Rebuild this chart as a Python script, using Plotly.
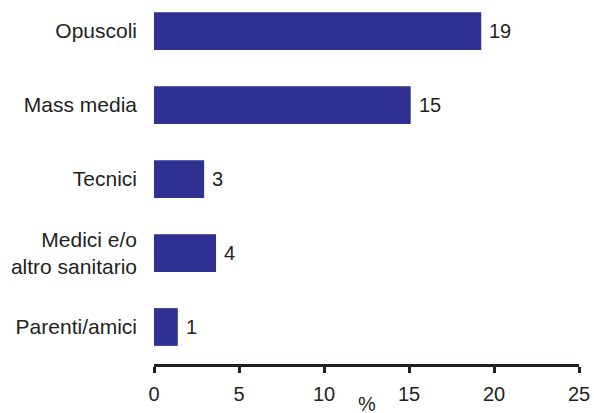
import plotly.graph_objects as go

categories = ["Opuscoli", "Mass media", "Tecnici", "Medici e/o<br>altro sanitario", "Parenti/amici"]
values = [19.25, 15.1, 2.95, 3.65, 1.4]
labels = ["19", "15", "3", "4", "1"]
tick_vals = [0, 5, 10, 15, 20, 25]

TXT = "#231f20"
BAR = "#2e3192"
FONT = "Liberation Sans, Arial, sans-serif"

fig = go.Figure()
fig.add_trace(go.Bar(
    x=values, y=categories, orientation="h",
    marker=dict(color=BAR, line=dict(width=0)),
    width=0.51, hoverinfo="skip",
))

for v, c, t in zip(values, categories, labels):
    fig.add_annotation(x=v, y=c, text=t, xanchor="left", yanchor="middle",
                       showarrow=False, xshift=6,
                       font=dict(family=FONT, size=20, color=TXT))

fig.add_annotation(x=0.5, y=0, xref="paper", yref="paper", text="%",
                   xanchor="center", yanchor="top", yshift=-27, showarrow=False,
                   font=dict(family=FONT, size=20, color=TXT))

fig.update_layout(
    width=594, height=413,
    margin=dict(l=154, r=15, t=0, b=49),
    paper_bgcolor="white", plot_bgcolor="white",
    showlegend=False,
    font=dict(family=FONT, size=20, color=TXT),
    xaxis=dict(range=[0, 25], tickvals=tick_vals, ticks="outside", ticklen=6,
               tickwidth=3, tickcolor=TXT, showline=True, linecolor=TXT,
               linewidth=3, showgrid=False, zeroline=False,
               tickfont=dict(family=FONT, size=20, color=TXT), ticklabelstandoff=4),
    yaxis=dict(categoryorder="array", categoryarray=categories,
               range=[4.5, -0.42], showgrid=False, zeroline=False, showline=False,
               ticks="", ticklabelstandoff=16,
               tickfont=dict(family=FONT, size=21, color=TXT)),
)

fig.write_html("out.html", config={"displayModeBar": False},
               post_script="document.body.style.margin='0';document.body.style.overflow='hidden';")
